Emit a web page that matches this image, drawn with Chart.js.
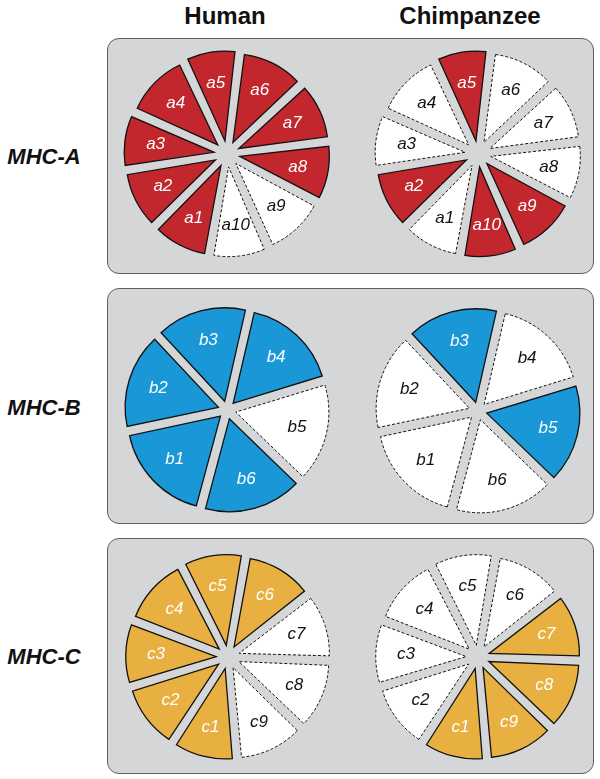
<!DOCTYPE html>
<html>
<head>
<meta charset="utf-8">
<script src="https://cdn.jsdelivr.net/npm/chart.js@4.4.1/dist/chart.umd.min.js"></script>
<style>
  body { margin: 0; background: #fff; font-family: "Liberation Sans", Arial, sans-serif; }
  #page { position: relative; width: 600px; height: 779px; overflow: hidden; }
  .box { position: absolute; left: 107px; width: 487px; height: 236px; box-sizing: border-box;
         background: #d5d6d8; border: 1.5px solid #5f5f5f; border-radius: 12px; }
  .col { position: absolute; top: 2px; font-weight: bold; font-size: 24px; color: #111;
         transform: translateX(-50%); white-space: nowrap; }
  .row { position: absolute; font-weight: bold; font-style: italic; font-size: 22px; color: #111;
         transform: translate(-50%, -50%); white-space: nowrap; }
  canvas { position: absolute; }
</style>
</head>
<body>
<div id="page">
  <div class="col" style="left:225px">Human</div>
  <div class="col" style="left:470px">Chimpanzee</div>
  <div class="box" style="top:38px"></div>
  <div class="box" style="top:288px"></div>
  <div class="box" style="top:538px"></div>
  <div class="row" style="left:44px; top:157px">MHC-A</div>
  <div class="row" style="left:44px; top:408px">MHC-B</div>
  <div class="row" style="left:44px; top:657px">MHC-C</div>
</div>
<script>
// slice names and their angular share (degrees)
const aLabels = ['a1', 'a2', 'a3', 'a4', 'a5', 'a6', 'a7', 'a8', 'a9', 'a10'];
const aShares = [35, 36, 33, 41, 32, 40, 36, 35, 38, 34];
const bLabels = ['b1', 'b2', 'b3', 'b4', 'b5', 'b6'];
const bShares = [63, 59, 56, 60, 61, 61];
const cLabels = ['c1', 'c2', 'c3', 'c4', 'c5', 'c6', 'c7', 'c8', 'c9'];
const cShares = [38, 40, 38, 42, 37, 42, 40, 42, 41];

// 1 = filled (present), 0 = white dashed
const aHuman = [1, 1, 1, 1, 1, 1, 1, 1, 0, 0];
const aChimp = [0, 1, 0, 0, 1, 0, 0, 0, 1, 1];
const bHuman = [1, 1, 1, 1, 0, 1];
const bChimp = [0, 0, 1, 0, 1, 0];
const cHuman = [1, 1, 1, 1, 1, 1, 0, 0, 0];
const cChimp = [1, 0, 0, 0, 0, 0, 1, 1, 1];

const LABEL_R = 72;

const sliceLabels = {
  id: 'sliceLabels',
  afterDatasetsDraw(chart, args, opts) {
    const ctx = chart.ctx;
    const meta = chart.getDatasetMeta(0);
    ctx.save();
    ctx.font = 'italic 17px "Liberation Sans", Arial, sans-serif';
    ctx.textAlign = 'center';
    ctx.textBaseline = 'middle';
    meta.data.forEach((arc, i) => {
      const p = arc.getProps(['x', 'y', 'startAngle', 'endAngle'], true);
      const mid = (p.startAngle + p.endAngle) / 2;
      ctx.fillStyle = opts.present[i] ? '#ffffff' : '#111111';
      ctx.fillText(chart.data.labels[i], p.x + Math.cos(mid) * LABEL_R, p.y + Math.sin(mid) * LABEL_R);
    });
    ctx.restore();
  }
};

function makePie(cx, cy, labels, shares, present, color, rotation, radius, offset) {
  const canvas = document.createElement('canvas');
  canvas.width = 240;
  canvas.height = 240;
  canvas.style.left = (cx - 120) + 'px';
  canvas.style.top = (cy - 120) + 'px';
  document.getElementById('page').appendChild(canvas);

  new Chart(canvas, {
    type: 'pie',
    data: {
      labels: labels,
      datasets: [{
        data: shares,
        backgroundColor: present.map(p => p ? color : '#ffffff'),
        borderColor: '#111111',
        borderWidth: present.map(p => p ? 1.3 : 1),
        borderDash: (c) => present[c.dataIndex] ? [] : [3, 2],
        borderJoinStyle: 'miter',
        offset: offset,
        radius: radius
      }]
    },
    options: {
      responsive: false,
      animation: false,
      events: [],
      rotation: rotation,
      layout: { padding: 0 },
      plugins: {
        legend: { display: false },
        tooltip: { enabled: false },
        sliceLabels: { present: present }
      }
    },
    plugins: [sliceLabels]
  });
}

makePie(227, 154, aLabels, aShares, aHuman, '#c1272d', 190, 84, 52);
makePie(478, 154, aLabels, aShares, aChimp, '#c1272d', 190, 84, 52);
makePie(227, 410, bLabels, bShares, bHuman, '#1997d6', 195, 92, 36);
makePie(478, 411, bLabels, bShares, bChimp, '#1997d6', 195, 92, 36);
makePie(228, 657, cLabels, cShares, cHuman, '#e8b040', 175, 86, 47);
makePie(478, 657, cLabels, cShares, cChimp, '#e8b040', 175, 86, 47);
</script>
</body>
</html>
